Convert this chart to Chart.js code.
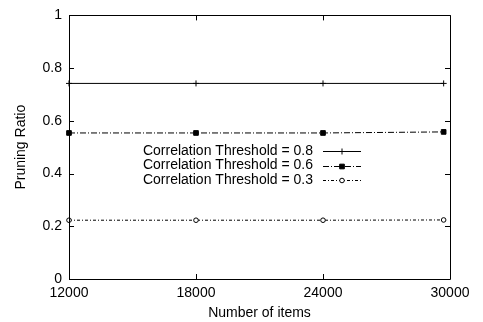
<!DOCTYPE html>
<html><head><meta charset="utf-8">
<script src="https://cdn.jsdelivr.net/npm/chart.js@4/dist/chart.umd.min.js"></script>
<style>html,body{margin:0;padding:0;background:#fff}#wrap{width:483px;height:322px}</style>
</head><body><div id="wrap"><canvas id="c" width="483" height="322"></canvas></div>
<script>
const items = [12000, 18000, 24000, 29700];
const thr08 = [0.742, 0.742, 0.742, 0.742];
const thr06 = [0.554, 0.554, 0.554, 0.558];
const thr03 = [0.223, 0.223, 0.223, 0.224];
const seriesNames = ['Correlation Threshold = 0.8', 'Correlation Threshold = 0.6', 'Correlation Threshold = 0.3'];
const xTicks = [12000, 18000, 24000, 30000];
const yTicks = [0, 0.2, 0.4, 0.6, 0.8, 1];

const FONT = 'Liberation Sans, Arial, sans-serif';
const mk = (vals) => items.map((x, i) => ({x, y: vals[i]}));

const styles = [
  {dash: [], point: 'cross', r: 3, fill: '#000'},
  {dash: [6, 2, 1, 2], point: 'rect', r: 3.3, fill: '#000'},
  {dash: [3, 2, 1, 2], point: 'circle', r: 2.3, fill: '#fff'}
];

const datasets = [thr08, thr06, thr03].map((v, i) => ({
  label: seriesNames[i],
  data: mk(v),
  borderColor: '#000',
  borderWidth: 1,
  borderDash: styles[i].dash,
  pointStyle: styles[i].point,
  pointRadius: styles[i].r,
  pointBackgroundColor: styles[i].fill,
  pointBorderColor: '#000',
  pointBorderWidth: 1,
  fill: false,
  tension: 0,
  clip: false
}));

const frame = {
  id: 'frame',
  afterDatasetsDraw(chart) {
    const {ctx, chartArea: a, scales} = chart;
    ctx.save();
    ctx.strokeStyle = '#000';
    ctx.lineWidth = 1;
    ctx.setLineDash([]);
    ctx.beginPath();
    ctx.rect(Math.round(a.left) + 0.5, Math.round(a.top) + 0.5, Math.round(a.right - a.left), Math.round(a.bottom - a.top));
    ctx.stroke();
    const tl = 5;
    ctx.beginPath();
    yTicks.forEach(v => {
      const y = Math.round(scales.y.getPixelForValue(v)) + 0.5;
      ctx.moveTo(a.left, y); ctx.lineTo(a.left + tl, y);
      ctx.moveTo(a.right, y); ctx.lineTo(a.right - tl, y);
    });
    xTicks.forEach(v => {
      const x = Math.round(scales.x.getPixelForValue(v)) + 0.5;
      ctx.moveTo(x, a.bottom); ctx.lineTo(x, a.bottom - tl);
      ctx.moveTo(x, a.top); ctx.lineTo(x, a.top + tl);
    });
    ctx.stroke();
    // legend
    ctx.font = '14px ' + FONT;
    ctx.fillStyle = '#000';
    ctx.textAlign = 'right';
    ctx.textBaseline = 'middle';
    const textRight = 313, lx0 = 323, lx1 = 361, rows = [151, 165.5, 180];
    chart.data.datasets.forEach((ds, i) => {
      const y = rows[i];
      ctx.fillText(ds.label, textRight, y);
      const yy = Math.round(y) + 0.5;
      ctx.setLineDash(ds.borderDash);
      ctx.beginPath(); ctx.moveTo(lx0, yy); ctx.lineTo(lx1, yy); ctx.stroke();
      ctx.setLineDash([]);
      ctx.fillStyle = ds.pointBackgroundColor;
      Chart.helpers.drawPoint(ctx, {pointStyle: ds.pointStyle, radius: ds.pointRadius, borderWidth: 1, rotation: 0}, (lx0 + lx1) / 2, yy);
      ctx.fillStyle = '#000';
    });
    ctx.restore();
  }
};

new Chart(document.getElementById('c'), {
  type: 'line',
  data: {datasets},
  plugins: [frame],
  options: {
    responsive: false,
    animation: false,
    devicePixelRatio: 1,
    layout: {padding: {top: 12, right: 33, left: 0, bottom: 0}},
    plugins: {legend: {display: false}, tooltip: {enabled: false}},
    scales: {
      x: {
        type: 'linear', min: 12000, max: 30000,
        afterBuildTicks: s => { s.ticks = xTicks.map(v => ({value: v})); },
        afterFit: s => { s.height = 43; },
        grid: {display: false, drawTicks: false},
        border: {display: false},
        ticks: {color: '#000', font: {family: FONT, size: 14}, padding: 6, maxRotation: 0, callback: v => String(v)},
        title: {display: true, text: 'Number of items', color: '#000', font: {family: FONT, size: 14}, padding: {top: 0, bottom: 0}}
      },
      y: {
        min: 0, max: 1,
        afterBuildTicks: s => { s.ticks = yTicks.map(v => ({value: v})); },
        afterFit: s => { s.width = 69; },
        grid: {display: false, drawTicks: false},
        border: {display: false},
        ticks: {color: '#000', font: {family: FONT, size: 14}, padding: 7, callback: v => String(Math.round(v * 10) / 10)},
        title: {display: true, text: 'Pruning Ratio', color: '#000', font: {family: FONT, size: 14}, padding: {top: 13, bottom: 0}}
      }
    }
  }
});
</script></body></html>
